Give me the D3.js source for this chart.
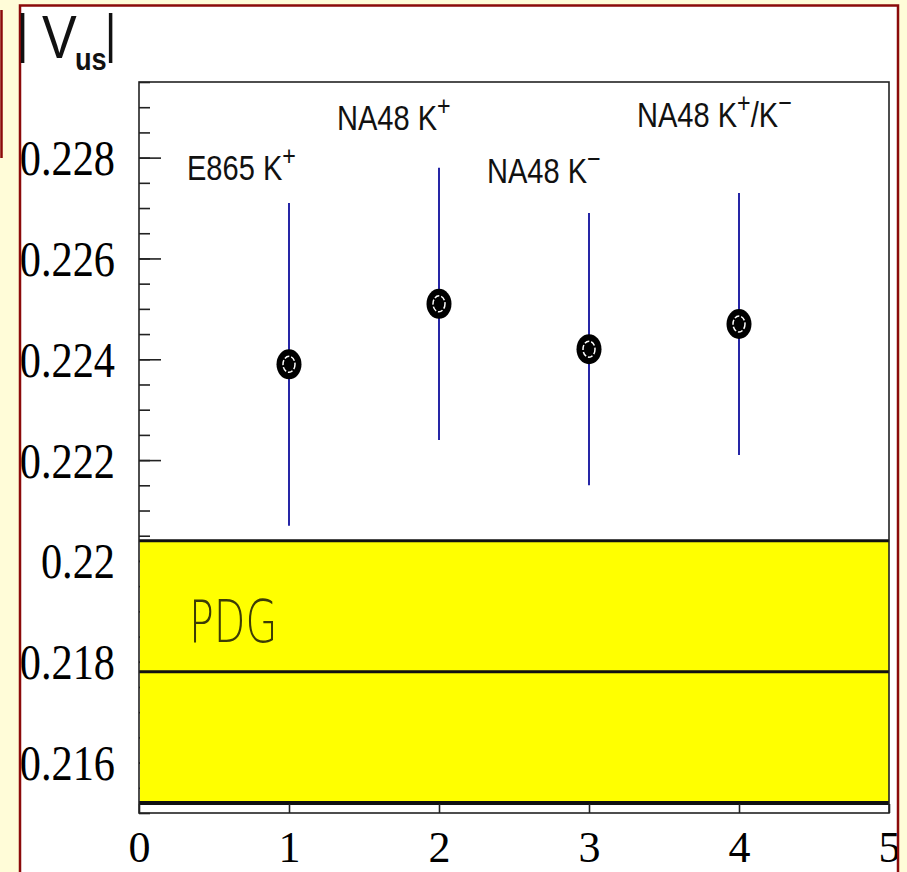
<!DOCTYPE html>
<html>
<head>
<meta charset="utf-8">
<script src="https://cdn.jsdelivr.net/npm/d3@7"></script>
<style>
  html, body { margin: 0; padding: 0; background: #fffcd8; }
  svg { display: block; }
</style>
</head>
<body>
<div id="chart"></div>
<script>
const experiments = ["E865", "NA48", "NA48", "NA48"];
// kaon labels: even entries normal, odd entries superscript
const kaonParts = [["K", "+"], ["K", "+"], ["K", "−"], ["K", "+", "/K", "−"]];
const positions = [1, 2, 3, 4];
const vusValues = [0.2239, 0.2251, 0.2242, 0.2247];
const vusErrors = [0.0032, 0.0027, 0.0027, 0.0026];

// PDG band
const pdgLabel = "PDG";
const pdgValue = 0.2178;
const pdgError = 0.0026;

const xTicks = [0, 1, 2, 3, 4, 5];
const yTicks = [0.216, 0.218, 0.22, 0.222, 0.224, 0.226, 0.228];
const yTickLabels = ["0.216", "0.218", "0.22", "0.222", "0.224", "0.226", "0.228"];

// label placement (pixels): left offset from the point, baseline
const labelDx = -102;
const labelBaseline = [180, 130, 183, 127];

const W = 907, H = 872;
const RED = "#8b0a0a";

const svg = d3.select("#chart").append("svg")
    .attr("width", W)
    .attr("height", H);

svg.append("rect")
    .attr("width", W)
    .attr("height", H)
    .attr("fill", "#fffcd8");

// sliver of the neighbouring box on the left
svg.append("line")
    .attr("x1", 1.5).attr("x2", 1.5)
    .attr("y1", 10).attr("y2", 158)
    .attr("stroke", RED)
    .attr("stroke-width", 2.5);

// white slide panel
svg.append("rect")
    .attr("x", 20).attr("y", 5.5)
    .attr("width", 878).attr("height", H)
    .attr("fill", "white")
    .attr("stroke", RED)
    .attr("stroke-width", 2.5);

svg.append("clipPath")
    .attr("id", "panel-clip")
    .append("rect")
    .attr("x", 21).attr("y", 7)
    .attr("width", 876).attr("height", H);

const g = svg.append("g")
    .attr("clip-path", "url(#panel-clip)");

const x = d3.scaleLinear()
    .domain([0, 5])
    .range([139, 889]);

const y = d3.scaleLinear()
    .domain([0.215, 0.2295])
    .range([813, 82]);

// y ticks, pointing into the frame
g.append("g")
    .attr("transform", "translate(" + x(0) + ",0)")
    .call(d3.axisRight(y).tickValues(y.ticks(30)).tickSize(11).tickFormat(""))
    .call(a => a.select(".domain").remove())
    .call(a => a.selectAll("line").attr("stroke", "#222").attr("stroke-width", 1.6));

g.append("g")
    .attr("transform", "translate(" + x(0) + ",0)")
    .call(d3.axisRight(y).tickValues(yTicks).tickSize(22).tickFormat(""))
    .call(a => a.select(".domain").remove())
    .call(a => a.selectAll("line").attr("stroke", "#222").attr("stroke-width", 1.6));

// y tick labels
g.append("g")
    .attr("transform", "translate(" + x(0) + ",0)")
    .call(d3.axisLeft(y).tickValues(yTicks).tickSize(0)
        .tickFormat((d, i) => yTickLabels[i]))
    .call(a => a.select(".domain").remove())
    .call(a => a.selectAll("text")
        .attr("x", 0)
        .attr("dy", null)
        .attr("y", 17)
        .attr("transform", "translate(-24,0) scale(0.83,1)")
        .attr("fill", "black")
        .attr("font-family", "'Liberation Serif', 'Times New Roman', serif")
        .attr("font-size", 51));

// PDG band
g.append("rect")
    .attr("x", x(0) + 1)
    .attr("width", x(5) - x(0) - 1)
    .attr("y", y(pdgValue + pdgError))
    .attr("height", y(pdgValue - pdgError) - y(pdgValue + pdgError))
    .attr("fill", "#ffff00");

[[pdgValue + pdgError, 3], [pdgValue, 3], [pdgValue - pdgError, 4]].forEach(function(d) {
    g.append("line")
        .attr("x1", x(0)).attr("x2", x(5))
        .attr("y1", y(d[0])).attr("y2", y(d[0]))
        .attr("stroke", "#111")
        .attr("stroke-width", d[1]);
});

g.append("text")
    .attr("transform", "translate(" + (x(0) + 50) + "," + y(pdgValue + pdgError * 0.23) + ") scale(0.71,1)")
    .attr("font-family", "'DejaVu Sans', 'Liberation Sans', sans-serif")
    .attr("font-weight", 200)
    .attr("font-size", 58)
    .attr("fill", "#3c3c06")
    .text(pdgLabel);

// plot frame
g.append("rect")
    .attr("x", x(0))
    .attr("y", y(0.2295))
    .attr("width", x(5) - x(0))
    .attr("height", y(0.215) - y(0.2295))
    .attr("fill", "none")
    .attr("stroke", "#222")
    .attr("stroke-width", 1.6);

// x axis: ticks pointing up, labels below
g.append("g")
    .attr("transform", "translate(0," + y(0.215) + ")")
    .call(d3.axisBottom(x).tickValues(xTicks).tickSizeInner(-9).tickSizeOuter(0).tickPadding(18)
        .tickFormat(d3.format("d")))
    .call(a => a.select(".domain").remove())
    .call(a => a.selectAll("line").attr("stroke", "#222").attr("stroke-width", 1.6))
    .call(a => a.selectAll("text")
        .attr("fill", "black")
        .attr("font-family", "'Liberation Serif', 'Times New Roman', serif")
        .attr("font-size", 44));

// error bars
g.selectAll(".err")
    .data(positions)
    .enter().append("line")
    .attr("class", "err")
    .attr("x1", d => x(d)).attr("x2", d => x(d))
    .attr("y1", (d, i) => y(vusValues[i] - vusErrors[i]))
    .attr("y2", (d, i) => y(vusValues[i] + vusErrors[i]))
    .attr("stroke", "#2626a6")
    .attr("stroke-width", 2);

// markers
g.selectAll(".mark")
    .data(positions)
    .enter().append("ellipse")
    .attr("class", "mark")
    .attr("cx", d => x(d))
    .attr("cy", (d, i) => y(vusValues[i]))
    .attr("rx", 12.5).attr("ry", 15)
    .attr("fill", "black");

g.selectAll(".mark-in")
    .data(positions)
    .enter().append("ellipse")
    .attr("class", "mark-in")
    .attr("cx", d => x(d))
    .attr("cy", (d, i) => y(vusValues[i]))
    .attr("rx", 6).attr("ry", 8)
    .attr("fill", "black")
    .attr("stroke", "white")
    .attr("stroke-width", 1.5)
    .attr("stroke-dasharray", "5 2");

// experiment labels
const labels = g.selectAll(".lab")
    .data(positions)
    .enter().append("text")
    .attr("class", "lab")
    .attr("transform", (d, i) => "translate(" + (x(d) + labelDx) + "," + labelBaseline[i] + ") scale(0.83,1)")
    .attr("font-family", "'Liberation Sans', Arial, sans-serif")
    .attr("font-size", 35)
    .attr("fill", "#111");

labels.each(function(d, i) {
    const t = d3.select(this);
    t.append("tspan").text(experiments[i] + " ");
    kaonParts[i].forEach(function(p, j) {
        const sup = j % 2 === 1;
        t.append("tspan")
            .attr("font-size", sup ? 28 : 35)
            .attr("dy", sup ? -15 : 15)
            .text(p);
    });
});
// the first "K" follows the name on the baseline
labels.selectAll("tspan:nth-child(2)").attr("dy", 0);

// axis title |Vus|
const title = svg.append("g")
    .attr("font-family", "'Liberation Sans', Arial, sans-serif")
    .attr("fill", "#111");

title.append("text")
    .attr("transform", "translate(17,52) scale(0.8,1)")
    .attr("font-size", 54)
    .text("|");
title.append("text")
    .attr("transform", "translate(42,58) scale(0.84,1)")
    .attr("font-size", 62)
    .text("V");
title.append("text")
    .attr("transform", "translate(75,70) scale(0.85,1)")
    .attr("font-size", 32)
    .attr("font-weight", "bold")
    .text("us");
title.append("text")
    .attr("transform", "translate(105,52) scale(0.8,1)")
    .attr("font-size", 54)
    .text("|");
</script>
</body>
</html>
